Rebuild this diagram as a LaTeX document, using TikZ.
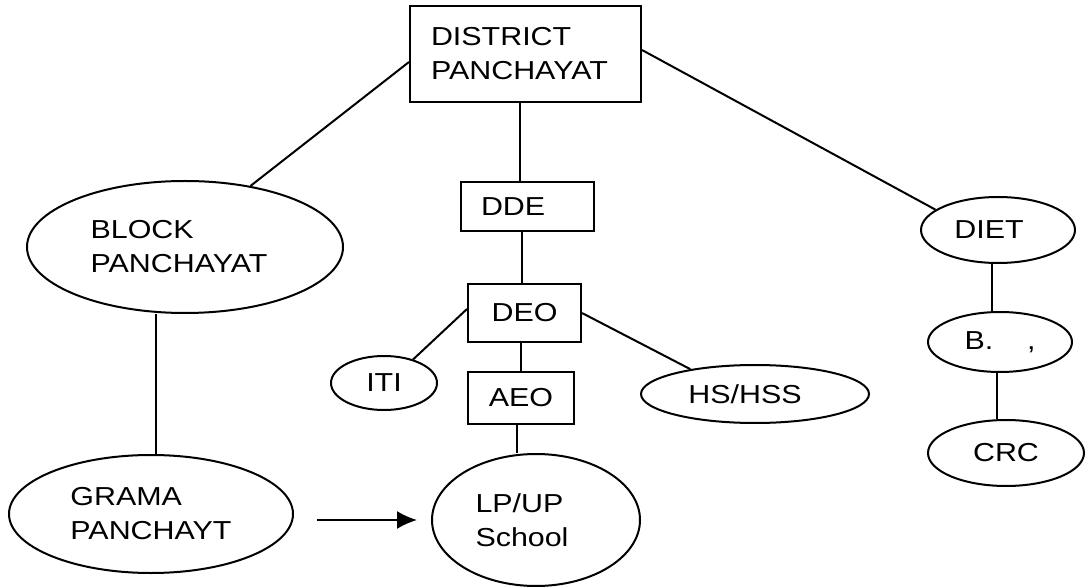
\documentclass[tikz,border=0pt]{standalone}
\usepackage{fontspec}
\setmainfont{Liberation Sans}[FakeStretch=1.17]
\usetikzlibrary{arrows.meta,shapes.geometric}
\begin{document}
\begin{tikzpicture}[x=0.5pt,y=-0.5pt,
  every node/.style={font=\fontsize{13}{17}\selectfont, line width=1pt},
  boxnode/.style={draw, rectangle, inner sep=0pt},
  ellnode/.style={draw, ellipse, inner sep=0pt, align=left},
  link/.style={draw, line width=1pt}]
\useasboundingbox (0,0) rectangle (1086,587);
% boxes
\node[boxnode, minimum width=115.5pt, minimum height=48pt, inner xsep=10.5pt, text width=94.5pt, align=left] (dist) at (525.5,54) {DISTRICT\\PANCHAYAT};
\node[boxnode, minimum width=66.5pt, minimum height=24.5pt, inner xsep=10pt, text width=46.5pt, align=left] (dde) at (527.5,206.5) {DDE};
\node[boxnode, minimum width=56.5pt, minimum height=29pt] (deo) at (524.5,313) {DEO};
\node[boxnode, minimum width=53pt, minimum height=26pt] (aeo) at (521,398) {AEO};
% ellipses
\node[ellnode, minimum width=158pt, minimum height=66pt] (block) at (185,247) {BLOCK\\PANCHAYAT\hspace*{6pt}};
\node[ellnode, minimum width=142pt, minimum height=59pt] (grama) at (151,514) {GRAMA\\PANCHAYT};
\node[ellnode, minimum width=104pt, minimum height=66pt] (lp) at (536,520) {LP/UP\\School\hspace*{14pt}};
\node[ellnode, minimum width=53pt, minimum height=27pt] (iti) at (384,383) {ITI};
\node[ellnode, minimum width=114pt, minimum height=29pt] (hs) at (755,394) {HS/HSS\hspace*{10pt}};
\node[ellnode, minimum width=77pt, minimum height=33pt] (diet) at (998,230) {DIET\hspace*{9pt}};
\node[ellnode, minimum width=72pt, minimum height=30pt] (b) at (1000,342) {B.\hspace{1.3em},};
\node[ellnode, minimum width=78pt, minimum height=33pt] (crc) at (1006,453) {CRC};
% connectors
\draw[link] ([yshift=-4pt]dist.west) -- (block.43);
\draw[link] ([yshift=2pt]dist.east) -- (diet.162);
\draw[link] ([xshift=-3.75pt]dde.north) -- ([xshift=-3.75pt]dde.north |- dist.south);
\draw[link] ([xshift=-1.25pt]deo.north) -- ([xshift=-1.25pt]deo.north |- dde.south);
\draw[link] ([yshift=2pt]deo.west) -- (iti.39);
\draw[link] (deo.east) -- (hs.159);
\draw[link] (aeo.north) -- (aeo.north |- deo.south);
\draw[link] ([xshift=-2pt]aeo.south) -- ([xshift=-2pt]aeo.south |- lp.north);
\draw[link] ([xshift=2.5pt]grama.north) -- ([xshift=2.5pt]grama.north |- block.south);
\draw[link] ([xshift=-4pt]b.north) -- ([xshift=-4pt]b.north |- diet.south);
\draw[link] ([xshift=-1.5pt]b.south) -- ([xshift=-1.5pt]b.south |- crc.north);
\draw[link, -{Latex[length=10pt,width=9pt]}] ([xshift=11.5pt]grama.east |- lp.west) -- ([xshift=-7pt]lp.west);
\end{tikzpicture}
\end{document}
